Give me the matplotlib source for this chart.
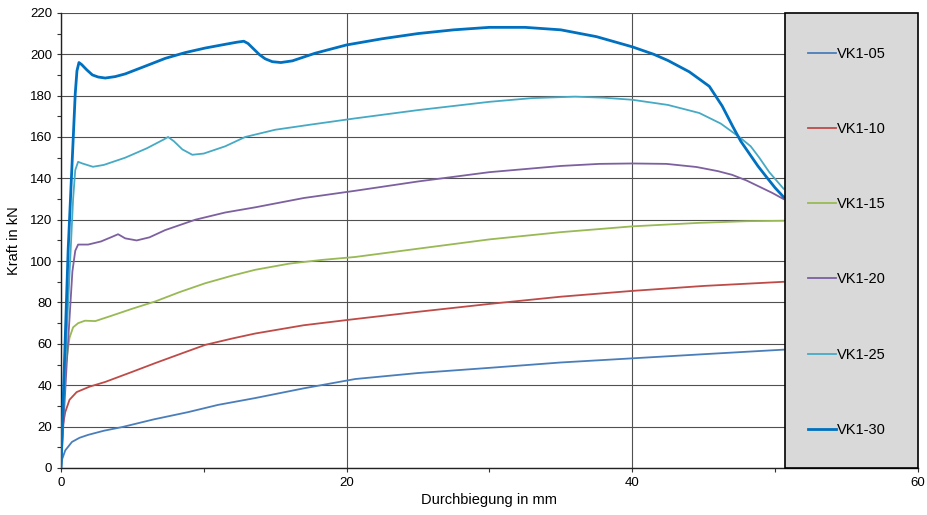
import numpy as np
import matplotlib
matplotlib.use("Agg")
import matplotlib.pyplot as plt
from matplotlib.patches import Rectangle

plt.rcParams['font.family'] = ['Liberation Sans', 'DejaVu Sans']

labels = ['VK1-05', 'VK1-10', 'VK1-15', 'VK1-20', 'VK1-25', 'VK1-30']
colors = ['#4a7ebb', '#be4b48', '#98b954', '#7d60a0', '#46aac5', '#0070c0']

x05 = [0, 0.07, 0.3, 0.77, 1.3, 1.9, 3, 4.3, 6.5, 8.9, 11, 13.6, 17, 20.6, 25, 30, 35, 40, 45, 50.6]
y05 = [0, 4, 8.5, 12.6, 14.6, 16, 18, 19.8, 23.5, 27, 30.5, 33.8, 38.5, 43, 45.9, 48.4, 51, 53, 55, 57.2]

x10 = [0, 0.07, 0.3, 0.6, 1.1, 2, 3.1, 5, 6.6, 8.5, 10.1, 12, 13.6, 17, 20.6, 25, 30, 35, 40, 45, 50.6]
y10 = [0, 18, 27, 33, 36.7, 39.3, 41.6, 46.5, 50.7, 55.5, 59.5, 62.6, 65, 69, 72, 75.5, 79.3, 82.8, 85.6, 88, 90]

x15 = [0, 0.28, 0.6, 0.85, 1.2, 1.68, 2.4, 3.5, 5, 6.6, 8.3, 10.1, 12, 13.6, 16, 18.3, 20.6, 25, 30, 35,
       37.7, 40, 44.7, 48, 50.6]
y15 = [0, 47, 63, 68, 70, 71.2, 71, 73.5, 77, 80.5, 85, 89.3, 93, 95.8, 98.8, 100.6, 102, 106, 110.5, 114,
       115.5, 116.8, 118.5, 119.3, 119.5]

x20 = [0, 0.4, 0.8, 1.0, 1.2, 1.9, 2.8, 3.6, 4.0, 4.5, 5.3, 6.2, 7.3, 9.4, 11.5, 13.6, 17, 20.6, 25, 30, 35,
       37.7, 40, 42.4, 44.5, 46, 47, 48, 48.9, 49.8, 50.6]
y20 = [0, 50, 95, 105, 108, 108, 109.5, 111.8, 113, 111, 110, 111.5, 115, 120, 123.5, 126, 130.5, 134, 138.5, 143, 146,
       147, 147.2, 147, 145.5, 143.5, 141.7, 139, 136, 133, 130]

x25 = [0, 0.4, 0.85, 1.0, 1.2, 1.5, 2.24, 3, 4.5, 6, 7.2, 7.5, 7.9, 8.5, 9.2, 10, 11.5, 12.9, 15, 17.5, 20.6,
       25, 30, 33, 36, 38, 40, 42.5, 44.7, 46.2, 47.5, 48.3, 48.9, 49.6, 50.6]
y25 = [0, 65, 130, 144, 148, 147.2, 145.6, 146.5, 150, 154.5, 158.8, 160, 158, 154, 151.4, 152, 155.5, 160, 163.5, 166, 169,
       173, 177, 178.8, 179.5, 179, 178, 175.5, 171.6, 166.5, 160, 155.5, 150, 143, 135]

x30 = [0, 0.5, 1.0, 1.12, 1.26, 1.45, 1.8, 2.2, 2.6, 3.1, 3.8, 4.5, 6, 7.3, 8.7, 10.1, 11.5, 12.3, 12.8, 13.1, 13.5,
       13.9, 14.3, 14.8, 15.4, 16.2, 17.8, 20, 22.5, 25, 27.5, 30, 32.5, 35, 37.5, 40, 41.5, 42.5, 44, 45.4, 46.3,
       47.05, 47.6, 48.2, 48.8, 49.4, 50.0, 50.6]
y30 = [0, 105, 181, 192, 196, 195, 192.5, 190, 189, 188.5, 189.2, 190.5, 194.5, 198, 200.8, 203, 204.8, 205.8, 206.3,
       205.2, 202.5, 199.8, 197.8, 196.4, 196, 196.8, 200.5, 204.5, 207.5, 210, 211.8, 213, 213, 211.8, 208.5, 203.6,
       200, 197, 191.5, 184.5, 175, 165, 158, 152, 146, 140.7, 135.5, 131]

series = [(x05, y05), (x10, y10), (x15, y15), (x20, y20), (x25, y25), (x30, y30)]
widths = [1.3, 1.3, 1.3, 1.3, 1.3, 2.0]

fig = plt.figure(figsize=(9.28, 5.15), dpi=100)
ax = fig.add_axes([0.0657, 0.0913, 0.9233, 0.8837])

for (xs, ys), lab, c, w in zip(series, labels, colors, widths):
    ax.plot(xs, ys, color=c, lw=w, label=lab, zorder=3, solid_joinstyle='round')

ax.set_xlim(0, 60)
ax.set_ylim(0, 220)
ax.set_xticks([0, 20, 40, 60])
ax.set_xticks([10, 30, 50], minor=True)
ax.set_yticks(np.arange(0, 221, 20))
ax.set_yticks(np.arange(10, 220, 20), minor=True)
ax.grid(True, which='major', color='#505050', lw=0.8, zorder=1)
ax.tick_params(which='both', direction='out', length=3, width=0.8, labelsize=9.5, color='#333333')
for s in ['top', 'right']:
    ax.spines[s].set_visible(False)
for s in ['left', 'bottom']:
    ax.spines[s].set_color('#222222')
    ax.spines[s].set_linewidth(1.0)

ax.set_xlabel('Durchbiegung in mm', fontsize=10.5, labelpad=3)
ax.set_ylabel('Kraft in kN', fontsize=10.5, labelpad=6)

# grey legend panel on the right
ax.add_patch(Rectangle((50.7, 0), 9.3, 220, facecolor='#d9d9d9', edgecolor='black', lw=1.2,
                       zorder=4, clip_on=False))
leg = ax.legend(loc='center', bbox_to_anchor=(0.917, 0.497), frameon=False, fontsize=10.5,
                handlelength=1.9, handletextpad=0.05, labelspacing=4.2)
leg.set_zorder(5)

fig.savefig('out.png', dpi=100)
